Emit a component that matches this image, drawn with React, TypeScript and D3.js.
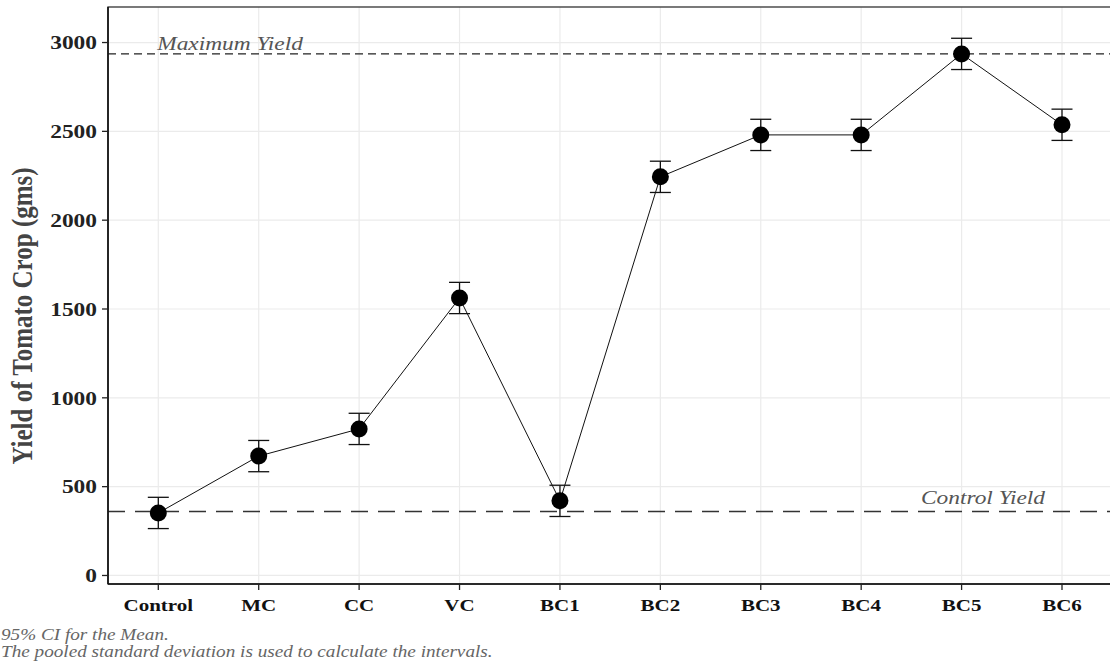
import React from "react";
import * as d3 from "d3";

const categories = ["Control", "MC", "CC", "VC", "BC1", "BC2", "BC3", "BC4", "BC5", "BC6"];
const means = [352, 672, 825, 1562, 420, 2244, 2480, 2480, 2936, 2537];
const ciHalf = [88, 88, 88, 88, 88, 88, 88, 88, 88, 88];
const yTicks = [0, 500, 1000, 1500, 2000, 2500, 3000];
const maxYield = 2936;
const controlYield = 360;
const captionLines = [
  "95% CI for the Mean.",
  "The pooled standard deviation is used to calculate the intervals.",
];

const W = 1110;
const H = 665;
const M = { left: 108, right: 1112, top: 7, bottom: 584 };
const SX = 1.2; // horizontal stretch of the original rendering

export default function App() {
  const x = d3.scalePoint<string>().domain(categories).range([158.3, 1062]);
  const y = d3.scaleLinear().domain([-48, 3200]).range([M.bottom, M.top]);
  const line = d3
    .line<number>()
    .x((_, i) => x(categories[i]) as number)
    .y((d) => y(d));
  const serif = "'Liberation Serif', 'Times New Roman', serif";
  const st = (tx: number, ty: number) => `translate(${tx},${ty}) scale(${SX},1)`;
  return (
    <svg
      width={W}
      height={H}
      style={{ position: "absolute", left: 0, top: 0, background: "#fff" }}
      fontFamily={serif}
    >
      {/* grid */}
      {yTicks.map((t) => (
        <line key={"gy" + t} x1={M.left} x2={M.right} y1={y(t)} y2={y(t)} stroke="#ebebeb" strokeWidth={1.2} />
      ))}
      {categories.map((c) => (
        <line key={"gx" + c} x1={x(c)} x2={x(c)} y1={M.top} y2={M.bottom} stroke="#ebebeb" strokeWidth={1.2} />
      ))}
      {/* reference lines */}
      <line x1={M.left} x2={M.right} y1={y(maxYield)} y2={y(maxYield)} stroke="#222" strokeWidth={1.3} strokeDasharray="8,5" />
      <line x1={M.left} x2={M.right} y1={y(controlYield)} y2={y(controlYield)} stroke="#333" strokeWidth={1.3} strokeDasharray="17,10" />
      <text transform={st(230, 50)} textAnchor="middle" fontStyle="italic" fontSize={19.5} fill="#555">
        Maximum Yield
      </text>
      <text transform={st(983, 504)} textAnchor="middle" fontStyle="italic" fontSize={19.5} fill="#555">
        Control Yield
      </text>
      {/* line */}
      <path d={line(means) || ""} fill="none" stroke="#111" strokeWidth={1} />
      {/* error bars */}
      {means.map((m, i) => {
        const cx = x(categories[i]) as number;
        const hi = y(m + ciHalf[i]);
        const lo = y(m - ciHalf[i]);
        return (
          <g key={"eb" + i} stroke="#111" strokeWidth={1.3}>
            <line x1={cx} x2={cx} y1={hi} y2={lo} />
            <line x1={cx - 10.5} x2={cx + 10.5} y1={hi} y2={hi} />
            <line x1={cx - 10.5} x2={cx + 10.5} y1={lo} y2={lo} />
          </g>
        );
      })}
      {means.map((m, i) => (
        <circle key={"pt" + i} cx={x(categories[i])} cy={y(m)} r={8.5} fill="#000" />
      ))}
      {/* panel border */}
      <rect x={M.left} y={M.top} width={M.right - M.left} height={M.bottom - M.top} fill="none" stroke="#333" strokeWidth={1.3} />
      <line x1={M.left} x2={M.left} y1={M.top} y2={M.bottom} stroke="#111" strokeWidth={1.6} />
      <line x1={M.left} x2={M.right} y1={M.bottom} y2={M.bottom} stroke="#111" strokeWidth={1.6} />
      {/* y axis */}
      {yTicks.map((t) => (
        <g key={"yt" + t}>
          <line x1={M.left - 6} x2={M.left} y1={y(t)} y2={y(t)} stroke="#222" strokeWidth={1.3} />
          <text transform={st(M.left - 11, y(t))} dy="0.35em" textAnchor="end" fontWeight="bold" fontSize={19.5} fill="#222">
            {t}
          </text>
        </g>
      ))}
      {/* x axis */}
      {categories.map((c) => (
        <g key={"xt" + c}>
          <line x1={x(c)} x2={x(c)} y1={M.bottom} y2={M.bottom + 6} stroke="#222" strokeWidth={1.3} />
          <text transform={st(x(c) as number, 610.5)} textAnchor="middle" fontWeight="bold" fontSize={17.5} fill="#111">
            {c}
          </text>
        </g>
      ))}
      <text
        transform={`translate(32, 316) scale(${SX},1) rotate(-90)`}
        textAnchor="middle"
        fontWeight="bold"
        fontSize={25}
        fill="#444"
      >
        Yield of Tomato Crop (gms)
      </text>
      {/* caption */}
      {captionLines.map((s, i) => (
        <text key={"cap" + i} transform={st(1, 639.5 + i * 17)} fontStyle="italic" fontSize={16} fill="#666">
          {s}
        </text>
      ))}
    </svg>
  );
}
